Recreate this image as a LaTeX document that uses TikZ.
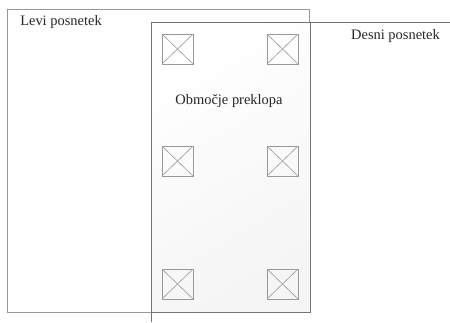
\documentclass[tikz,border=0pt]{standalone}
\usepackage{fontspec}
\setmainfont{Liberation Serif}
\begin{document}
\begin{tikzpicture}[x=1bp,y=-1bp,
  frame/.style={draw=black!40,line width=0.8bp},
  overlap/.style={draw=black!55,line width=0.8bp,top color=white,bottom color=black!4,shading angle=30},
  marker/.style={draw=black!40,line width=0.7bp,minimum width=31bp,minimum height=30bp,inner sep=0pt,
    path picture={\draw[black!40,line width=0.6bp] (path picture bounding box.north west) -- (path picture bounding box.south east)
      (path picture bounding box.north east) -- (path picture bounding box.south west);}},
  lbl/.style={font=\fontsize{14.5}{17}\selectfont,text=black!85,inner sep=0pt}]
\useasboundingbox (0,0) rectangle (450,322);
% left image
\node[frame,minimum width=302bp,minimum height=303bp,inner sep=0pt,anchor=north west] (left) at (7,9) {};
% overlap region
\node[overlap,minimum width=159bp,minimum height=290bp,inner sep=0pt,anchor=north west] (ov) at (151,22) {};
% right image edges running past the picture
\coordinate (rt) at (450,22);
\coordinate (rb) at (151,322);
\draw[black!55,line width=0.8bp] (rt) -- (ov.north west) -- (rb);
% tie points
\node[marker] (m1) at (177.5,49) {};
\node[marker] (m2) at (282.5,49) {};
\node[marker] (m3) at (177.5,161) {};
\node[marker] (m4) at (282.5,161) {};
\node[marker] (m5) at (177.5,284) {};
\node[marker] (m6) at (282.5,284) {};
% labels
\node[lbl] (tl) at (61,22) {Levi posnetek};
\node[lbl] (tr) at (395.5,36) {Desni posnetek};
\node[lbl] (to) at (229,101) {Območje preklopa};
\end{tikzpicture}
\end{document}
